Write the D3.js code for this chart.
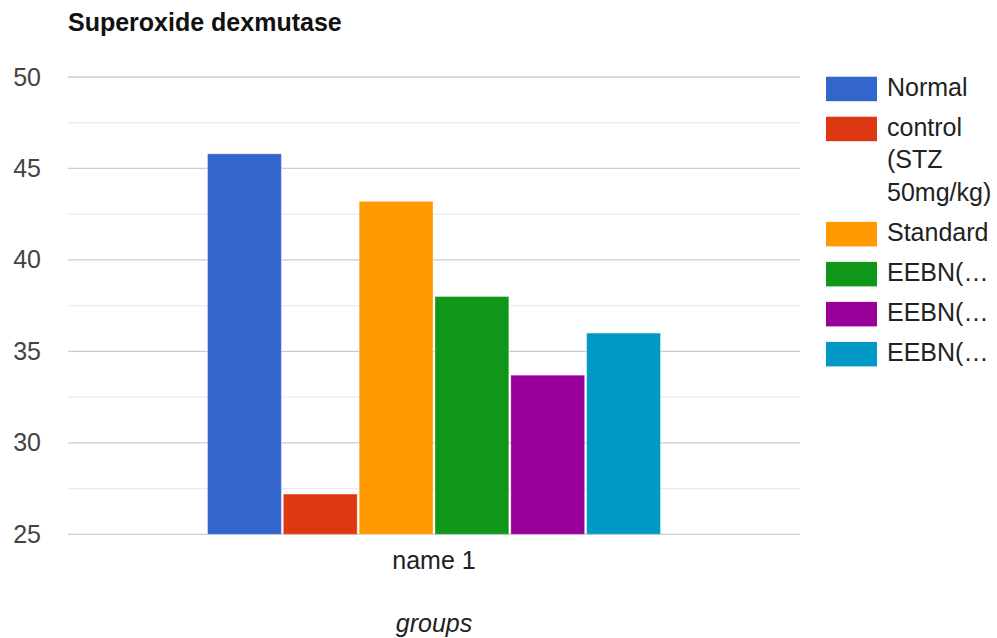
<!DOCTYPE html>
<html><head><meta charset="utf-8">
<script src="https://cdn.jsdelivr.net/npm/d3@7"></script>
<style>html,body{margin:0;padding:0;background:#fff;}svg{display:block;}</style>
</head><body>
<svg id="chart" width="997" height="638"></svg>
<script>
const title = "Superoxide dexmutase";
const categories = ["name 1"];
const seriesNames = ["Normal", "control (STZ 50mg/kg)", "Standard", "EEBN(…", "EEBN(…", "EEBN(…"];
const legendLines = [["Normal"], ["control", "(STZ", "50mg/kg)"], ["Standard"], ["EEBN(…"], ["EEBN(…"], ["EEBN(…"]];
const seriesValues = [45.8, 27.2, 43.2, 38.0, 33.7, 36.0];
const colors = ["#3366cc", "#dc3912", "#ff9900", "#109618", "#990099", "#0099c6"];
const majorTicks = [25, 30, 35, 40, 45, 50];
const minorTicks = [27.5, 32.5, 37.5, 42.5, 47.5];
const xTitle = "groups";

(function () {
const svg = d3.select("#chart");
const font = "Arial, 'Liberation Sans', sans-serif";
const pLeft = 68, pRight = 800, pTop = 77, pBottom = 534.3;

const y = d3.scaleLinear().domain([25, 50]).range([pBottom, pTop]);
const x0 = d3.scaleBand().domain(categories).range([pLeft, pRight]).paddingInner(0).paddingOuter(0.308);
const x1 = d3.scaleBand().domain(d3.range(seriesValues.length)).range([0, x0.bandwidth()]).paddingInner(0.026).paddingOuter(0);

svg.append("text").attr("x", pLeft).attr("y", 31).attr("font-family", font)
  .attr("font-size", 25).attr("font-weight", "bold").attr("fill", "#111").text(title);

svg.append("g").selectAll("line").data(minorTicks).join("line")
  .attr("x1", pLeft).attr("x2", pRight).attr("y1", d => y(d)).attr("y2", d => y(d))
  .attr("stroke", "#ebebeb").attr("stroke-width", 1.3);
svg.append("g").selectAll("line").data(majorTicks).join("line")
  .attr("x1", pLeft).attr("x2", pRight).attr("y1", d => y(d)).attr("y2", d => y(d))
  .attr("stroke", "#cccccc").attr("stroke-width", 1.3);

const yAxis = svg.append("g").attr("transform", `translate(${pLeft},0)`)
  .call(d3.axisLeft(y).tickValues(majorTicks).tickSize(0).tickPadding(27));
yAxis.select(".domain").remove();
yAxis.selectAll("text").attr("font-family", font).attr("font-size", 25).attr("fill", "#444");

const g = svg.append("g");
categories.forEach(cat => {
  g.selectAll("rect.b").data(seriesValues).join("rect")
    .attr("x", (d, i) => x0(cat) + x1(i))
    .attr("width", x1.bandwidth())
    .attr("y", d => y(d))
    .attr("height", d => y(25) - y(d))
    .attr("fill", (d, i) => colors[i])
    .attr("stroke", "#ffffff").attr("stroke-opacity", 0.35).attr("stroke-width", 1);
});

const xAxis = svg.append("g").attr("transform", `translate(0,${pBottom})`)
  .call(d3.axisBottom(x0).tickSize(0).tickPadding(17));
xAxis.select(".domain").remove();
xAxis.selectAll("text").attr("font-family", font).attr("font-size", 25).attr("fill", "#222");

svg.append("text").attr("x", (pLeft + pRight) / 2).attr("y", 632).attr("text-anchor", "middle")
  .attr("font-family", font).attr("font-size", 25).attr("font-style", "italic").attr("fill", "#222").text(xTitle);

const legendX = 826, textX = 887, swW = 51, swH = 24.5, lineH = 32.6, entryGap = 40;
let ly = 76.7;
const lg = svg.append("g");
legendLines.forEach((lines, i) => {
  lg.append("rect").attr("x", legendX).attr("y", ly).attr("width", swW).attr("height", swH).attr("fill", colors[i]);
  lines.forEach((t, j) => {
    lg.append("text").attr("x", textX).attr("y", ly + 19 + j * lineH)
      .attr("font-family", font).attr("font-size", 25).attr("fill", "#222").text(t);
  });
  ly += entryGap + (lines.length - 1) * lineH;
});
})();
</script>
</body></html>
